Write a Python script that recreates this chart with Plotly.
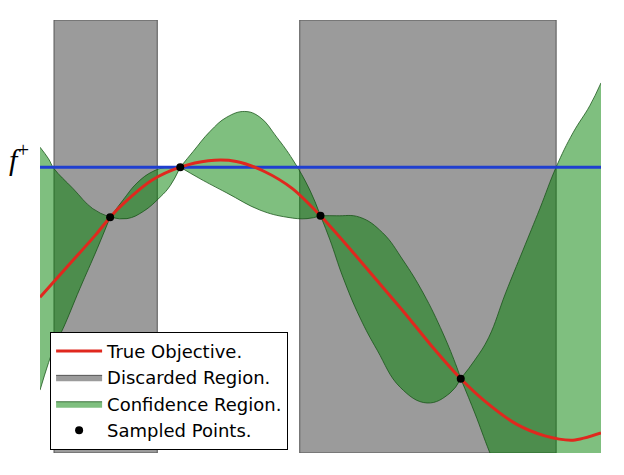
import plotly.graph_objects as go

# true objective
x_true = [0, 0.5, 1.0, 1.25, 1.5, 2.0, 2.5, 3.0, 3.5, 4.0, 4.5, 5.0, 5.5,
          6.0, 6.5, 7.0, 7.5, 8.0, 8.5, 9.0, 9.5, 10.0]
y_true = [0.09, 0.31, 0.53, 0.65, 0.75, 0.91, 1.00, 1.045, 1.04, 0.97, 0.85,
          0.66, 0.44, 0.21, -0.02, -0.26, -0.48, -0.66, -0.80, -0.88, -0.91, -0.86]

# confidence region (upper / lower bounds)
x_upper = [0, 0.15, 0.25, 0.59, 0.94, 1.25, 1.48, 1.73, 2.01, 2.26, 2.5, 2.73, 3.03,
           3.33, 3.65, 3.92, 4.22, 4.51, 4.81, 5.0, 5.29, 5.70, 6.11, 6.47,
           6.83, 7.18, 7.43, 7.5, 7.75, 8.0, 8.3, 8.61, 8.91, 9.2, 9.5, 9.8, 10.0]
y_upper = [1.14, 1.06, 0.99, 0.85, 0.71, 0.65, 0.77, 0.89, 0.97, 1.0, 1.0, 1.11, 1.25,
           1.35, 1.39, 1.35, 1.21, 1.05, 0.84, 0.66, 0.66, 0.65, 0.54, 0.35,
           0.12, -0.16, -0.40, -0.48, -0.35, -0.19, 0.12, 0.42, 0.71, 1.0, 1.24, 1.43, 1.59]
x_lower = [0, 0.27, 0.41, 0.71, 1.02, 1.25, 1.55, 1.84, 2.14, 2.32, 2.5, 2.85,
           3.33, 3.92, 4.40, 4.76, 5.0, 5.17, 5.40, 5.70, 6.01, 6.42, 6.90,
           7.31, 7.5, 7.75, 8.02, 8.5, 9.0, 10.0]
y_lower = [-0.56, -0.24, -0.13, 0.15, 0.43, 0.65, 0.64, 0.69, 0.79, 0.87, 1.0, 0.92,
           0.82, 0.70, 0.65, 0.64, 0.66, 0.49, 0.23, -0.05, -0.28, -0.54, -0.65,
           -0.58, -0.48, -0.72, -1.0, -1.45, -1.85, -2.4]

# sampled points
x_samples = [1.25, 2.5, 5.0, 7.5]
y_samples = [0.65, 1.0, 0.66, -0.48]

# discarded intervals
discard_lo = [0.25, 4.63]
discard_hi = [2.09, 9.2]

f_plus = 1.0
x_range = [0, 10]
y_range = [-1.0, 2.03]


def segment(xs, ys, a, b):
    pts = [(x, y) for x, y in zip(xs, ys) if a <= x <= b]
    return [p[0] for p in pts], [p[1] for p in pts]


fig = go.Figure()

# gray discarded regions as one filled trace
gx, gy = [], []
for lo, hi in zip(discard_lo, discard_hi):
    gx += [lo, hi, hi, lo, lo, None]
    gy += [y_range[0], y_range[0], y_range[1], y_range[1], y_range[0], None]
fig.add_trace(go.Scatter(
    x=gx, y=gy, mode="lines", fill="toself",
    fillcolor="#9b9b9b", line=dict(color="#555555", width=1),
    name="Discarded Region.", legendrank=2, hoverinfo="skip"
))

# confidence band, one piece between each pair of sampled points
band_line = dict(color="rgba(20,80,20,0.75)", width=1, shape="spline", smoothing=1.2)
breaks = [x_range[0]] + x_samples + [x_range[1]]
for i in range(len(breaks) - 1):
    a, b = breaks[i], breaks[i + 1]
    lx, ly = segment(x_lower, y_lower, a, b)
    ux, uy = segment(x_upper, y_upper, a, b)
    fig.add_trace(go.Scatter(
        x=lx, y=ly, mode="lines", line=band_line,
        showlegend=False, hoverinfo="skip", legendgroup="conf"
    ))
    fig.add_trace(go.Scatter(
        x=ux, y=uy, mode="lines", fill="tonexty",
        fillcolor="rgba(0,128,0,0.5)", line=band_line,
        name="Confidence Region.", legendgroup="conf", legendrank=3,
        showlegend=(i == 0), hoverinfo="skip"
    ))

fig.add_trace(go.Scatter(
    x=x_range, y=[f_plus, f_plus], mode="lines",
    line=dict(color="#1f3fd0", width=3), showlegend=False
))

fig.add_trace(go.Scatter(
    x=x_true, y=y_true, mode="lines",
    line=dict(color="#e0281e", width=3, shape="spline", smoothing=0.8),
    name="True Objective.", legendrank=1
))

fig.add_trace(go.Scatter(
    x=x_samples, y=y_samples, mode="markers",
    marker=dict(color="black", size=8),
    name="Sampled Points.", legendrank=4
))

fig.add_annotation(
    x=0, xref="paper", y=f_plus, yref="y",
    text="<i>f</i><sup>+</sup>",
    showarrow=False,
    xanchor="right", yanchor="middle", xshift=-9, yshift=10,
    font=dict(family="Liberation Serif", size=30, color="black")
)

# page body adds 8px around the figure
fig.update_layout(
    width=616, height=467,
    margin=dict(l=32, r=23, t=12, b=22),
    plot_bgcolor="white", paper_bgcolor="white",
    xaxis=dict(range=x_range, visible=False),
    yaxis=dict(range=y_range, visible=False),
    showlegend=True,
    legend=dict(
        x=0.018, y=0.28, xanchor="left", yanchor="top",
        traceorder="normal", itemwidth=46,
        bgcolor="white", bordercolor="black", borderwidth=1,
        font=dict(family="DejaVu Sans", size=18, color="black"),
        tracegroupgap=0
    )
)

fig.write_html("out.html")
